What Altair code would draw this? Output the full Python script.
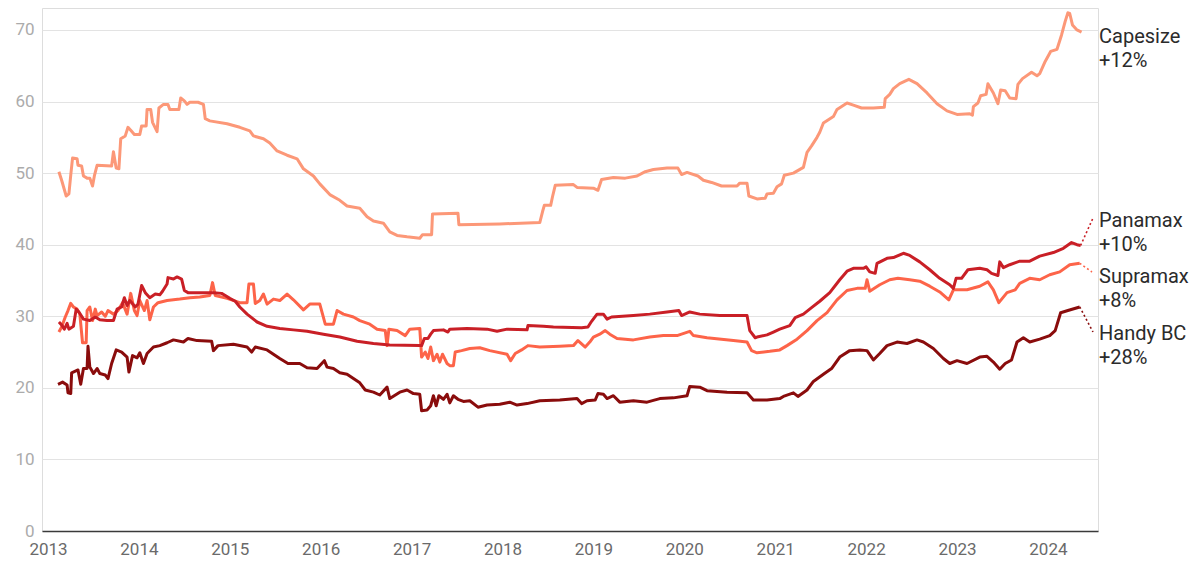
import altair as alt
import pandas as pd

# ---- data (decimal year, value in $m) ----
cape_year = [2013.12, 2013.15, 2013.20, 2013.23, 2013.25, 2013.27, 2013.32, 2013.33, 2013.37, 2013.39, 2013.43, 2013.46, 2013.49, 2013.51, 2013.54, 2013.70, 2013.72, 2013.75, 2013.78, 2013.80, 2013.85, 2013.88, 2013.91, 2013.95, 2014.01, 2014.03, 2014.08, 2014.09, 2014.13, 2014.15, 2014.20, 2014.22, 2014.27, 2014.32, 2014.34, 2014.44, 2014.46, 2014.50, 2014.53, 2014.56, 2014.65, 2014.71, 2014.73, 2014.78, 2014.97, 2015.11, 2015.22, 2015.26, 2015.37, 2015.44, 2015.52, 2015.63, 2015.74, 2015.81, 2015.92, 2015.99, 2016.10, 2016.21, 2016.29, 2016.43, 2016.51, 2016.58, 2016.69, 2016.76, 2016.84, 2016.95, 2017.09, 2017.12, 2017.22, 2017.23, 2017.51, 2017.52, 2017.97, 2018.41, 2018.44, 2018.46, 2018.53, 2018.55, 2018.58, 2018.78, 2018.82, 2019.00, 2019.05, 2019.09, 2019.22, 2019.35, 2019.48, 2019.57, 2019.66, 2019.81, 2019.93, 2019.97, 2020.03, 2020.15, 2020.21, 2020.30, 2020.41, 2020.58, 2020.61, 2020.69, 2020.71, 2020.80, 2020.89, 2020.91, 2020.98, 2021.02, 2021.07, 2021.10, 2021.20, 2021.31, 2021.35, 2021.40, 2021.46, 2021.49, 2021.53, 2021.64, 2021.68, 2021.79, 2021.86, 2021.95, 2022.08, 2022.20, 2022.21, 2022.26, 2022.30, 2022.37, 2022.47, 2022.56, 2022.67, 2022.78, 2022.89, 2023.00, 2023.14, 2023.17, 2023.18, 2023.23, 2023.26, 2023.32, 2023.34, 2023.40, 2023.45, 2023.48, 2023.53, 2023.58, 2023.65, 2023.67, 2023.72, 2023.82, 2023.88, 2023.91, 2023.97, 2024.03, 2024.10, 2024.15, 2024.19, 2024.22, 2024.24, 2024.27, 2024.32, 2024.37]
cape_val = [50.2, 49.0, 46.8, 47.1, 49.7, 52.1, 52.0, 51.1, 51.0, 49.6, 49.3, 49.3, 48.2, 49.6, 51.1, 51.0, 53.0, 50.7, 50.6, 54.8, 55.2, 56.4, 56.0, 55.4, 55.4, 56.6, 56.6, 58.9, 58.9, 57.1, 55.8, 59.1, 59.6, 59.6, 58.9, 58.9, 60.5, 60.1, 59.6, 59.9, 59.9, 59.6, 57.6, 57.3, 56.9, 56.4, 55.9, 55.2, 54.8, 54.2, 53.1, 52.5, 52.0, 50.6, 49.6, 48.5, 47.0, 46.2, 45.4, 45.1, 43.9, 43.3, 43.0, 41.8, 41.3, 41.1, 40.9, 41.4, 41.4, 44.3, 44.4, 42.8, 42.9, 43.1, 44.6, 45.5, 45.5, 46.7, 48.3, 48.4, 48.0, 47.9, 47.6, 49.1, 49.4, 49.3, 49.6, 50.2, 50.5, 50.7, 50.7, 49.8, 50.1, 49.6, 49.0, 48.7, 48.2, 48.2, 48.6, 48.6, 46.8, 46.4, 46.5, 47.1, 47.2, 48.1, 48.5, 49.7, 50.0, 50.8, 52.9, 53.8, 55.0, 55.7, 57.0, 57.9, 58.9, 59.8, 59.5, 59.1, 59.1, 59.2, 60.4, 61.0, 61.8, 62.5, 63.1, 62.5, 61.2, 59.7, 58.7, 58.2, 58.3, 58.1, 59.3, 59.8, 60.8, 61.0, 62.5, 61.2, 59.7, 61.6, 61.5, 60.5, 60.4, 62.4, 63.2, 64.1, 63.6, 63.9, 65.6, 67.0, 67.3, 69.3, 71.2, 72.4, 72.3, 70.7, 70.0, 69.7]

pana_year = [2013.12, 2013.15, 2013.18, 2013.21, 2013.23, 2013.28, 2013.31, 2013.34, 2013.39, 2013.46, 2013.52, 2013.57, 2013.65, 2013.72, 2013.76, 2013.81, 2013.84, 2013.87, 2013.90, 2013.96, 2013.99, 2014.03, 2014.07, 2014.12, 2014.18, 2014.23, 2014.26, 2014.31, 2014.32, 2014.38, 2014.42, 2014.47, 2014.50, 2014.54, 2014.82, 2014.91, 2014.95, 2015.00, 2015.06, 2015.11, 2015.19, 2015.30, 2015.41, 2015.55, 2015.70, 2015.85, 2016.03, 2016.21, 2016.40, 2016.58, 2016.76, 2017.09, 2017.11, 2017.14, 2017.18, 2017.21, 2017.24, 2017.35, 2017.40, 2017.42, 2017.61, 2017.83, 2017.94, 2018.05, 2018.27, 2018.28, 2018.45, 2018.56, 2018.87, 2018.94, 2018.98, 2019.04, 2019.11, 2019.15, 2019.20, 2019.44, 2019.62, 2019.81, 2019.94, 2019.97, 2020.06, 2020.17, 2020.39, 2020.54, 2020.69, 2020.72, 2020.78, 2020.80, 2020.91, 2020.98, 2021.05, 2021.16, 2021.22, 2021.31, 2021.40, 2021.49, 2021.60, 2021.71, 2021.79, 2021.86, 2021.97, 2022.00, 2022.04, 2022.10, 2022.12, 2022.23, 2022.30, 2022.41, 2022.48, 2022.59, 2022.70, 2022.81, 2022.92, 2022.96, 2022.99, 2023.05, 2023.12, 2023.25, 2023.33, 2023.38, 2023.45, 2023.47, 2023.51, 2023.58, 2023.69, 2023.80, 2023.91, 2024.06, 2024.17, 2024.26, 2024.32, 2024.36]
pana_val = [29.2, 28.8, 28.2, 29.0, 28.2, 28.6, 31.0, 30.6, 29.6, 29.4, 29.9, 29.5, 29.4, 29.4, 31.0, 31.3, 32.6, 31.5, 32.2, 31.3, 31.7, 34.3, 33.3, 32.6, 33.1, 33.0, 33.5, 34.5, 35.4, 35.2, 35.5, 35.2, 33.6, 33.3, 33.3, 33.2, 32.9, 32.5, 32.1, 31.3, 30.3, 29.2, 28.6, 28.3, 28.1, 27.9, 27.5, 27.1, 26.5, 26.2, 26.0, 25.9, 25.9, 26.9, 26.9, 27.5, 28.0, 28.1, 27.8, 28.2, 28.3, 28.2, 27.9, 28.2, 28.1, 28.7, 28.6, 28.5, 28.4, 28.5, 29.3, 30.3, 30.3, 29.6, 29.9, 30.1, 30.3, 30.6, 30.8, 30.1, 30.6, 30.3, 30.1, 30.1, 30.1, 28.0, 27.0, 27.1, 27.4, 27.8, 28.2, 28.7, 29.8, 30.3, 31.2, 32.1, 33.3, 35.1, 36.3, 36.7, 36.7, 36.9, 36.2, 36.0, 37.4, 38.1, 38.2, 38.8, 38.5, 37.6, 36.5, 35.3, 34.4, 33.9, 35.3, 35.3, 36.5, 36.7, 36.5, 36.0, 35.7, 37.6, 36.8, 37.2, 37.7, 37.7, 38.4, 38.9, 39.5, 40.3, 40.0, 39.9]

supra_year = [2013.12, 2013.15, 2013.19, 2013.22, 2013.25, 2013.28, 2013.32, 2013.35, 2013.38, 2013.42, 2013.43, 2013.46, 2013.49, 2013.52, 2013.54, 2013.59, 2013.63, 2013.66, 2013.72, 2013.77, 2013.82, 2013.87, 2013.91, 2013.95, 2013.98, 2014.01, 2014.06, 2014.09, 2014.12, 2014.16, 2014.21, 2014.31, 2014.45, 2014.56, 2014.67, 2014.78, 2014.81, 2014.84, 2014.97, 2015.11, 2015.19, 2015.21, 2015.26, 2015.28, 2015.33, 2015.37, 2015.41, 2015.48, 2015.55, 2015.63, 2015.70, 2015.81, 2015.88, 2015.99, 2016.05, 2016.14, 2016.18, 2016.25, 2016.36, 2016.43, 2016.54, 2016.62, 2016.71, 2016.73, 2016.75, 2016.84, 2016.93, 2016.98, 2017.09, 2017.11, 2017.15, 2017.18, 2017.21, 2017.24, 2017.28, 2017.31, 2017.34, 2017.39, 2017.42, 2017.46, 2017.48, 2017.55, 2017.64, 2017.75, 2017.86, 2018.05, 2018.09, 2018.14, 2018.21, 2018.28, 2018.41, 2018.63, 2018.78, 2018.83, 2018.91, 2018.96, 2019.00, 2019.07, 2019.13, 2019.18, 2019.26, 2019.44, 2019.62, 2019.77, 2019.92, 2020.06, 2020.10, 2020.25, 2020.54, 2020.69, 2020.74, 2020.80, 2020.94, 2021.05, 2021.13, 2021.24, 2021.35, 2021.46, 2021.57, 2021.68, 2021.79, 2021.90, 2021.99, 2022.01, 2022.04, 2022.15, 2022.26, 2022.35, 2022.48, 2022.59, 2022.70, 2022.81, 2022.91, 2022.96, 2023.11, 2023.25, 2023.34, 2023.40, 2023.46, 2023.55, 2023.64, 2023.69, 2023.80, 2023.91, 2024.02, 2024.13, 2024.24, 2024.35]
supra_val = [27.8, 28.5, 29.9, 30.8, 31.8, 31.3, 31.0, 30.3, 26.3, 26.3, 30.8, 31.3, 29.4, 31.0, 30.1, 30.6, 30.0, 30.8, 30.3, 30.8, 31.9, 30.3, 33.2, 30.8, 30.1, 32.2, 30.8, 32.2, 29.5, 31.3, 31.9, 32.2, 32.4, 32.6, 32.7, 32.9, 34.7, 32.9, 32.5, 31.9, 31.9, 34.5, 34.5, 31.8, 32.2, 33.1, 31.7, 32.4, 32.2, 33.1, 32.3, 30.9, 31.7, 31.7, 28.9, 28.9, 30.8, 30.3, 29.9, 29.4, 28.9, 28.2, 28.0, 25.9, 28.2, 28.0, 27.3, 28.2, 28.3, 24.3, 25.0, 24.1, 25.7, 23.8, 24.7, 23.6, 24.7, 23.4, 23.1, 23.1, 25.0, 25.2, 25.5, 25.6, 25.2, 24.7, 23.8, 24.8, 25.3, 25.9, 25.7, 25.8, 25.9, 26.6, 25.7, 26.4, 27.1, 27.5, 28.0, 27.5, 26.9, 26.7, 27.1, 27.3, 27.3, 27.9, 27.3, 27.0, 26.6, 26.4, 25.2, 24.9, 25.1, 25.3, 25.9, 26.8, 28.0, 29.4, 30.5, 32.3, 33.6, 33.9, 33.9, 35.1, 33.5, 34.4, 35.1, 35.3, 35.1, 34.9, 34.2, 33.4, 32.3, 33.7, 33.7, 34.2, 34.8, 33.7, 31.9, 33.3, 33.7, 34.6, 35.3, 35.1, 35.8, 36.2, 37.2, 37.4]

handy_year = [2013.11, 2013.16, 2013.21, 2013.22, 2013.25, 2013.26, 2013.33, 2013.36, 2013.39, 2013.43, 2013.44, 2013.46, 2013.50, 2013.54, 2013.57, 2013.63, 2013.66, 2013.70, 2013.75, 2013.81, 2013.87, 2013.89, 2013.93, 2013.98, 2014.01, 2014.05, 2014.09, 2014.16, 2014.23, 2014.31, 2014.38, 2014.49, 2014.54, 2014.64, 2014.80, 2014.82, 2014.87, 2015.04, 2015.19, 2015.24, 2015.28, 2015.41, 2015.48, 2015.55, 2015.64, 2015.77, 2015.85, 2015.96, 2016.04, 2016.07, 2016.14, 2016.21, 2016.29, 2016.36, 2016.43, 2016.49, 2016.58, 2016.65, 2016.73, 2016.76, 2016.87, 2016.95, 2017.02, 2017.09, 2017.11, 2017.17, 2017.21, 2017.24, 2017.27, 2017.30, 2017.35, 2017.39, 2017.42, 2017.46, 2017.51, 2017.57, 2017.64, 2017.73, 2017.83, 2017.97, 2018.08, 2018.16, 2018.27, 2018.41, 2018.63, 2018.82, 2018.87, 2018.93, 2019.02, 2019.05, 2019.11, 2019.15, 2019.22, 2019.29, 2019.44, 2019.59, 2019.73, 2019.88, 2020.03, 2020.06, 2020.17, 2020.25, 2020.47, 2020.69, 2020.76, 2020.91, 2021.05, 2021.09, 2021.20, 2021.25, 2021.35, 2021.42, 2021.53, 2021.62, 2021.71, 2021.82, 2021.93, 2022.01, 2022.08, 2022.15, 2022.23, 2022.34, 2022.45, 2022.56, 2022.63, 2022.74, 2022.85, 2022.92, 2023.00, 2023.11, 2023.25, 2023.33, 2023.40, 2023.47, 2023.53, 2023.60, 2023.66, 2023.73, 2023.80, 2023.91, 2024.02, 2024.08, 2024.14, 2024.22, 2024.35]
handy_val = [20.5, 20.8, 20.4, 19.3, 19.2, 22.1, 22.5, 20.5, 22.7, 22.7, 25.8, 22.9, 22.0, 22.7, 22.0, 21.8, 21.3, 23.4, 25.3, 25.0, 24.3, 22.2, 24.5, 24.2, 24.9, 23.4, 24.8, 25.7, 25.9, 26.3, 26.7, 26.4, 26.9, 26.6, 26.5, 25.2, 25.9, 26.1, 25.7, 25.0, 25.7, 25.3, 24.7, 24.1, 23.4, 23.4, 22.8, 22.7, 23.8, 22.9, 22.7, 22.1, 21.9, 21.3, 20.7, 19.7, 19.4, 19.0, 20.1, 18.5, 19.4, 19.7, 19.2, 19.1, 16.8, 16.9, 17.5, 18.9, 17.5, 18.9, 18.4, 19.1, 17.9, 18.9, 18.4, 18.1, 18.2, 17.3, 17.6, 17.7, 18.0, 17.6, 17.8, 18.2, 18.3, 18.5, 17.8, 18.2, 18.3, 19.2, 19.1, 18.5, 18.9, 18.0, 18.2, 18.0, 18.5, 18.6, 18.9, 20.2, 20.1, 19.6, 19.4, 19.3, 18.3, 18.3, 18.5, 18.8, 19.3, 18.8, 19.7, 20.9, 21.9, 22.7, 24.3, 25.2, 25.3, 25.2, 23.9, 24.8, 25.9, 26.4, 26.2, 26.7, 26.4, 25.5, 24.1, 23.4, 23.8, 23.4, 24.3, 24.4, 23.6, 22.6, 23.4, 23.9, 26.4, 27.0, 26.4, 26.8, 27.3, 28.0, 30.5, 30.8, 31.3]

series_names = ["Capesize", "Supramax", "Panamax", "Handy BC"]
series_colors = ["#fc9878", "#fd6449", "#c91f26", "#8a0c0c"]
series_labels = ["Capesize\n+12%", "Panamax\n+10%", "Supramax\n+8%", "Handy BC\n+28%"]
y_ticks = [0, 10, 20, 30, 40, 50, 60, 70]
x_ticks = list(range(2013, 2025))

# ---- layout ----
W, H = 1056, 523
X_DOMAIN = [2012.934, 2024.551]
Y_DOMAIN = [0, 73.07]
FONT = "Roboto"

frames = []
for name, yrs, vals in [("Capesize", cape_year, cape_val), ("Supramax", supra_year, supra_val),
                        ("Panamax", pana_year, pana_val), ("Handy BC", handy_year, handy_val)]:
    frames.append(pd.DataFrame({"year": yrs, "value": vals, "series": name}))
df = pd.concat(frames, ignore_index=True)

xs = alt.Scale(domain=X_DOMAIN, nice=False, zero=False)
ys = alt.Scale(domain=Y_DOMAIN, nice=False, zero=False)

lines = []
for name, col in zip(series_names, series_colors):
    lines.append(
        alt.Chart(df[df["series"] == name]).mark_line(
            strokeWidth=3, color=col, strokeJoin="round", clip=False
        ).encode(
            x=alt.X("year:Q", scale=xs, axis=alt.Axis(
                values=x_ticks, format="d", title=None, grid=False, ticks=False,
                domain=True, domainColor="#3a3a3a", domainWidth=1.6,
                labelFont=FONT, labelFontSize=17, labelColor="#6a6a6a",
                labelPadding=10, zindex=1)),
            y=alt.Y("value:Q", scale=ys, axis=alt.Axis(
                values=y_ticks, title=None, grid=True, gridColor="#e3e3e3",
                gridWidth=1.2, ticks=False, domain=False, labelFont=FONT,
                labelFontSize=17, labelColor="#ababab", labelPadding=8)),
            order="year:Q",
        )
    )

# connectors (dotted) from line ends to labels
connectors = []
conn_specs = [("Panamax", pana_year, pana_val, "#c91f26", 1051, 210),
              ("Supramax", supra_year, supra_val, "#fd6449", 1050, 264),
              ("Handy BC", handy_year, handy_val, "#8a0c0c", 1051, 324)]
for name, yrs, vals, col, px, py in conn_specs:
    d = pd.DataFrame({"year": [yrs[-1]], "value": [vals[-1]]})
    connectors.append(
        alt.Chart(d).mark_rule(strokeDash=[2, 2.5], strokeWidth=1.6, color=col).encode(
            x=alt.X("year:Q", scale=xs), y=alt.Y("value:Q", scale=ys),
            x2=alt.value(px), y2=alt.value(py)
        )
    )

# labels on the right
label_y = [34.7, 218.7, 275.3, 332.0]
texts = []
for lab, py in zip(series_labels, label_y):
    texts.append(
        alt.Chart(pd.DataFrame({"t": [lab]})).mark_text(
            align="left", baseline="alphabetic", lineBreak="\n", lineHeight=24,
            font=FONT, fontSize=20, color="#2b2b2b"
        ).encode(text="t:N", x=alt.value(W + 1), y=alt.value(py))
    )

chart = alt.layer(*lines, *connectors, *texts).properties(
    width=W, height=H,
    autosize=alt.AutoSizeParams(type="none"),
    padding={"left": 34, "top": 0, "right": 94, "bottom": 30},
).configure_view(stroke=None).configure(background="white")

chart.save("out.html", embed_options={"renderer": "svg", "actions": False})
